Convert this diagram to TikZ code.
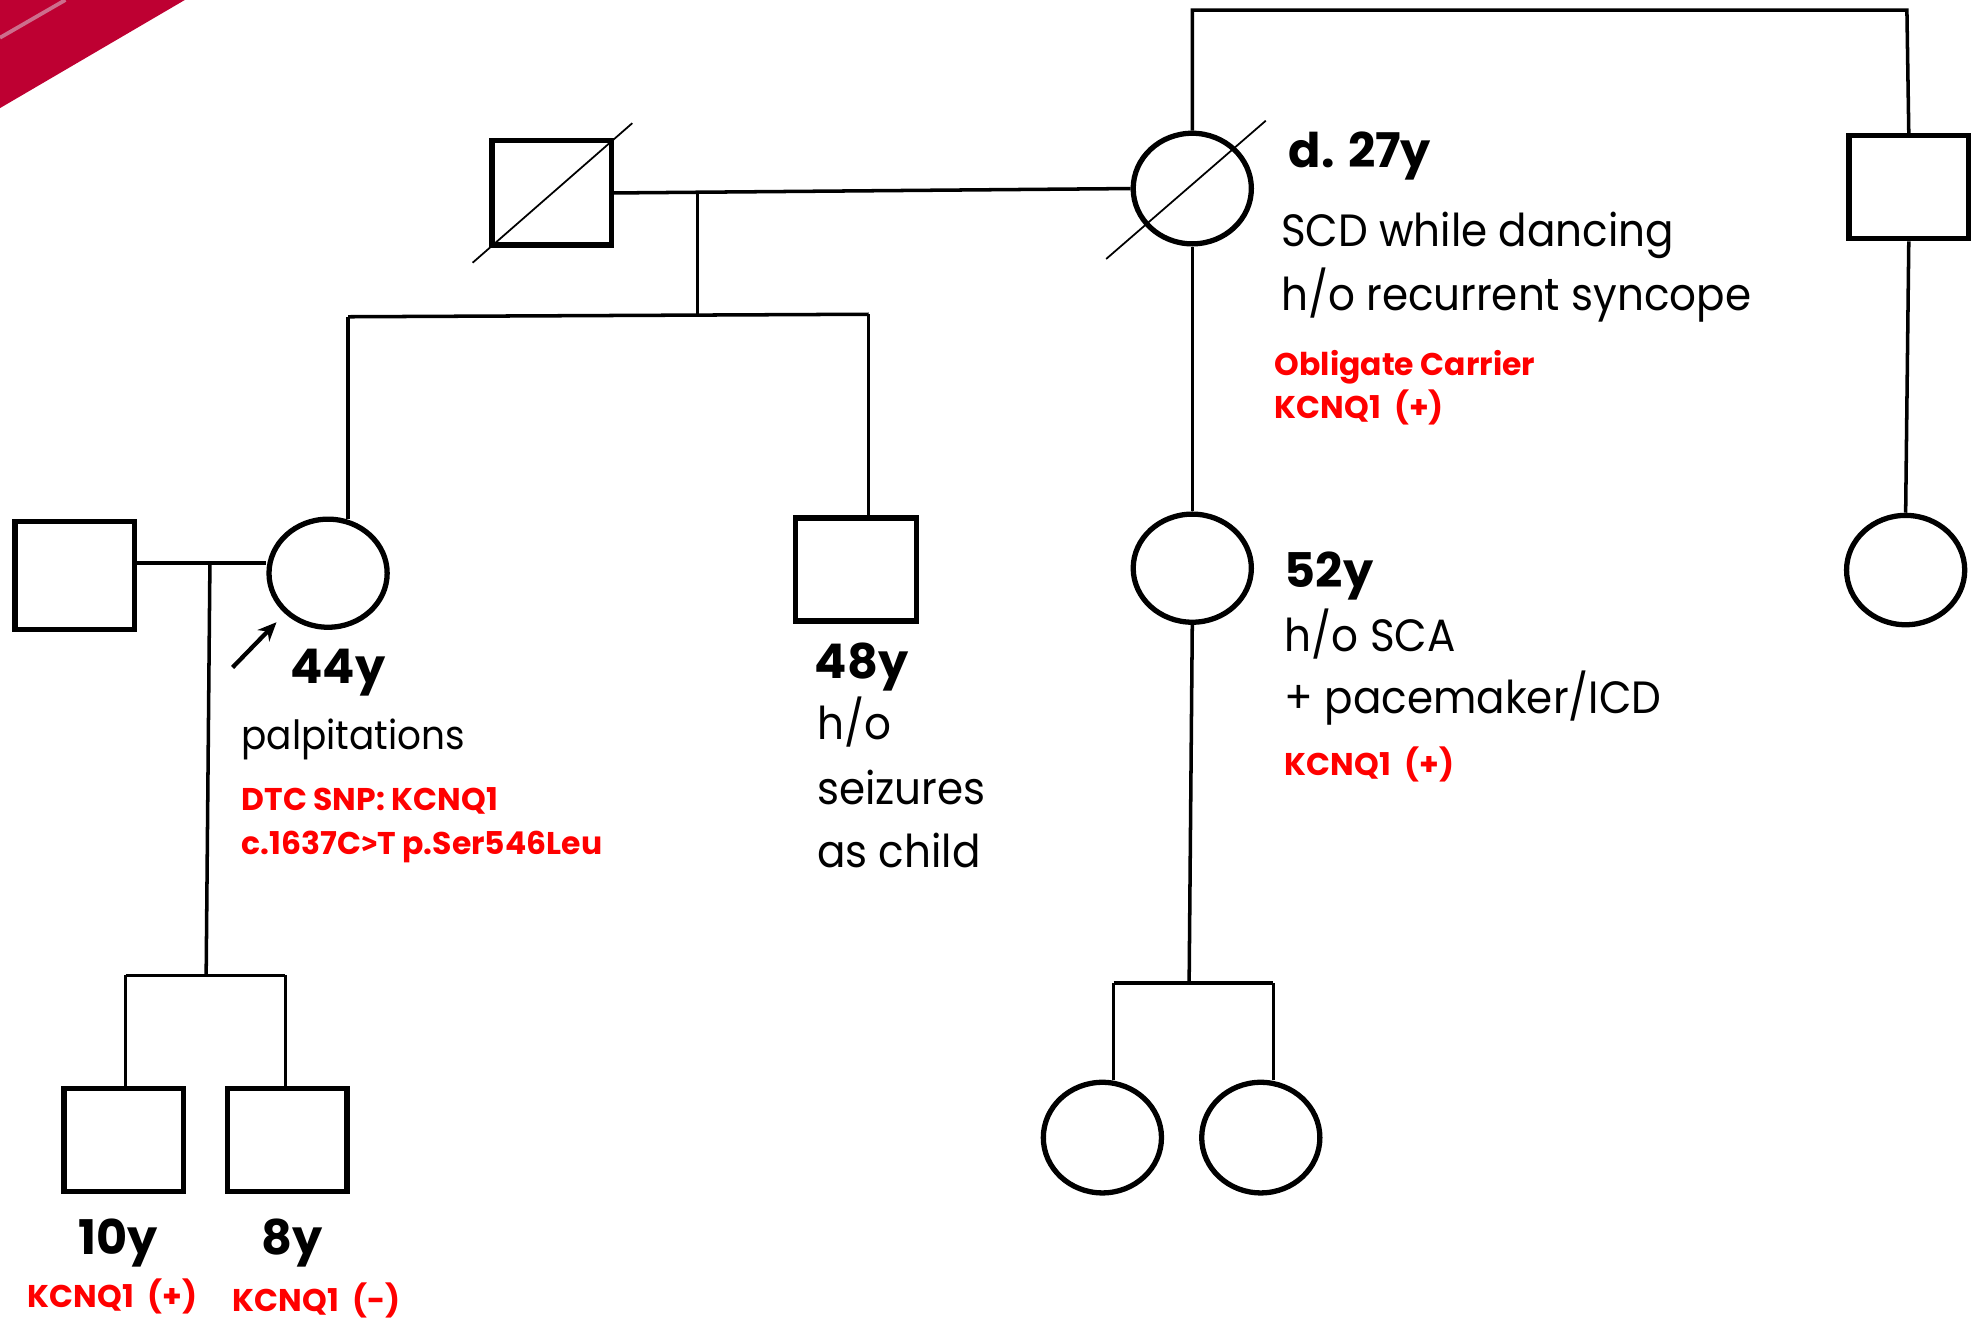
\documentclass[tikz,border=0pt]{standalone}
\usepackage{fontspec}
\setmainfont{Poppins}
\newfontfamily\regfont{Poppins}[FakeStretch=0.93]
\newfontfamily\gtfont{Fira Sans}
\usetikzlibrary{shapes.geometric,arrows.meta}
\definecolor{swoosh}{RGB}{190,0,50}
\definecolor{stripe}{RGB}{205,110,140}
\definecolor{kred}{RGB}{255,0,0}
\begin{document}
\begin{tikzpicture}[x=1pt,y=-1pt,
 male/.style={draw,line width=4.2pt,rectangle,minimum width=95pt,minimum height=83pt,inner sep=0},
 female/.style={draw,line width=4.2pt,ellipse,minimum width=94pt,minimum height=87pt,inner sep=0},
 conn/.style={line width=2.8pt},
 slash/.style={line width=1.4pt},
 lbl/.style={anchor=base west,inner sep=0,font=\regfont\fontsize{36}{40}\selectfont},
 age/.style={anchor=base west,inner sep=0,font=\fontsize{38}{42}\selectfont\bfseries},
 gen/.style={anchor=base west,inner sep=0,text=kred,font=\fontsize{25}{28}\selectfont\bfseries},
]
\useasboundingbox (0,0) rectangle (1568,1049);
% corner decoration
\fill[swoosh] (0,0) -- (147,0) -- (0,86) -- cycle;
\draw[stripe,line width=3pt] (0,30) -- (52,0);

% individuals
\node[male] (gf) at (439,153.5) {};
\node[female,minimum height=88pt] (gm) at (948.5,150) {};
\node[male,minimum height=82pt] (gu) at (1518.5,149) {};
\node[female] (cous) at (1516,453.5) {};
\node[female,minimum height=86pt] (aunt) at (948.5,452) {};
\node[female,minimum height=88pt] (d1) at (877,905) {};
\node[female,minimum height=88pt] (d2) at (1003,905) {};
\node[male,minimum height=86pt] (hus) at (59.5,458) {};
\node[female,minimum height=86pt] (prob) at (261,456) {};
\node[male,minimum width=96pt,minimum height=82pt] (unc) at (681,453) {};
\node[male,minimum height=82pt] (s10) at (98.5,907) {};
\node[male,minimum height=82pt] (s8) at (228.5,907) {};

% deceased slashes
\draw[slash] (376,209) -- (503,98);
\draw[slash] (880,206) -- (1007,96);

% connectors
\coordinate (topR) at (1517,8);
\draw[conn] (gm.north) |- (topR) -- (gu.north);
\draw[conn] (gf.east) -- (gm.west);
\coordinate (m1) at (555,152);
\coordinate (s1) at (555,251);
\draw[conn] (m1) -- (s1);
\coordinate (s1L) at (277,252);
\coordinate (s1R) at (691,250);
\draw[conn] (s1L) -- (s1R);
\draw[conn] (s1L) -- (s1L |- prob.70);
\draw[conn] (s1R) -- (s1R |- unc.north);
\draw[conn] (gm.south) -- (aunt.north);
\draw[conn] (gu.south) -- (cous.north);
\coordinate (m2) at (946,781);
\draw[conn] (aunt.south) -- (m2);
\coordinate (s2L) at (886,782);
\coordinate (s2R) at (1013,782);
\draw[conn] (s2L) -- (s2R);
\draw[conn] (s2L) -- (s2L |- d1.north);
\draw[conn] (s2R) -- (s2R |- d2.north);
\coordinate (mL) at (167,448);
\draw[conn] (mL -| hus.east) -- (mL -| prob.west);
\coordinate (m3) at (164,776);
\draw[conn] (mL) -- (m3);
\coordinate (s3L) at (100,776);
\coordinate (s3R) at (227,776);
\draw[conn] (s3L) -- (s3R);
\draw[conn] (s3L) -- (s3L |- s10.north);
\draw[conn] (s3R) -- (s3R |- s8.north);
% proband arrow
\coordinate (arrS) at (185,531);
\coordinate (arrE) at (220,495);
\draw[line width=3.4pt,-{Stealth[length=15pt,width=13pt]}] (arrS) -- (arrE);

% texts
\node[age] (t1) at (1025,133) {d. 27y};
\node[lbl] (t2) at (1019,196) {SCD while dancing};
\node[lbl] (t3) at (1019,247) {h/o recurrent syncope};
\node[gen] (t4) at (1014,299) {Obligate Carrier};
\node[gen] (t5) at (1014,333) {KCNQ1\ \ (+)};

\node[age] (a1) at (1022,467) {52y};
\node[lbl] (a2) at (1022,518) {h/o SCA};
\node[lbl] (a3) at (1022,568) {+ pacemaker/ICD};
\node[gen] (a4) at (1022,617) {KCNQ1\ \ (+)};

\node[age] (p1) at (231,544) {44y};
\node[lbl,font=\regfont\fontsize{32}{36}\selectfont] (p2) at (192,596) {palpitations};
\node[gen] (p3) at (192,645) {DTC SNP:\ KCNQ1};
\node[gen] (p4) at (192,680) {c.1637C{\gtfont\bfseries >}T p.Ser546Leu};

\node[age] (u1) at (648,540) {48y};
\node[lbl] (u2) at (650,588) {h/o};
\node[lbl] (u3) at (650,640) {seizures};
\node[lbl] (u4) at (650,690) {as child};

\node[age] (k1) at (62,998) {10y};
\node[age] (k2) at (208,998) {8y};
\node[gen] (k3) at (22,1040) {KCNQ1\ \ (+)};
\node[gen] (k4) at (185,1043) {KCNQ1\ \ (-)};
\end{tikzpicture}
\end{document}
